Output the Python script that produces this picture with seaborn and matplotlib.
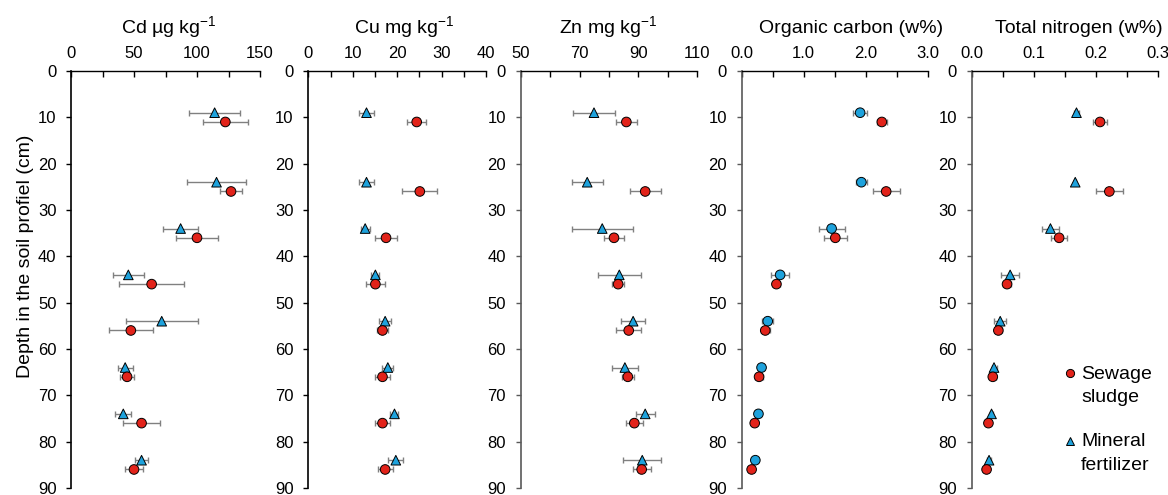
import matplotlib
matplotlib.use('Agg')
import matplotlib.pyplot as plt
import matplotlib.ticker as ticker
import seaborn as sns
import pandas as pd

sns.set_style('ticks')
plt.rcParams['font.family'] = ['Liberation Sans', 'DejaVu Sans']
plt.rcParams['mathtext.fontset'] = 'custom'
plt.rcParams['mathtext.rm'] = 'Liberation Sans'
plt.rcParams['mathtext.default'] = 'rm'
for key in ['text.color', 'axes.labelcolor', 'xtick.color', 'ytick.color']:
    plt.rcParams[key] = 'black'

SEWAGE = 'Sewage sludge'
MINERAL = 'Mineral fertilizer'

depth_sewage = [11, 26, 36, 46, 56, 66, 76, 86]
depth_mineral = [9, 24, 34, 44, 54, 64, 74, 84]

cd_sewage = [122.5, 127, 100, 64, 47.5, 44.5, 56, 50]
cd_sewage_err = [18, 9, 16.5, 26, 17.5, 5.5, 14.5, 7]
cd_mineral = [114, 115.5, 87, 45.5, 72, 43, 41.5, 56]
cd_mineral_err = [20, 23.5, 14, 12.5, 28.5, 6, 6.5, 5.5]

cu_sewage = [24.4, 25.1, 17.5, 15.1, 16.7, 16.7, 16.7, 17.3]
cu_sewage_err = [2.1, 3.9, 2.5, 2.1, 1.2, 1.6, 1.6, 1.7]
cu_mineral = [13.1, 13.1, 12.8, 15.1, 17.3, 17.9, 19.4, 19.7]
cu_mineral_err = [1.6, 1.8, 1.0, 0.9, 1.3, 1.2, 0.9, 1.7]

zn_sewage = [85.9, 92.3, 81.7, 83.1, 86.7, 86.4, 88.6, 91.1]
zn_sewage_err = [3.6, 5.2, 3.4, 2.1, 4.3, 2.1, 2.8, 3.0]
zn_mineral = [74.9, 72.6, 77.7, 83.5, 88.2, 85.4, 92.3, 91.3]
zn_mineral_err = [7.0, 5.3, 10.3, 7.3, 4.1, 4.5, 3.2, 6.5]

oc_sewage = [2.26, 2.33, 1.51, 0.56, 0.38, 0.28, 0.21, 0.16]
oc_sewage_err = [0.08, 0.22, 0.19, 0.06, 0.07, 0.07, 0.03, 0.03]
oc_mineral = [1.91, 1.93, 1.45, 0.62, 0.42, 0.32, 0.27, 0.22]
oc_mineral_err = [0.11, 0.09, 0.21, 0.14, 0.09, 0.04, 0.03, 0.03]

tn_sewage = [0.207, 0.222, 0.141, 0.057, 0.043, 0.034, 0.027, 0.024]
tn_sewage_err = [0.011, 0.022, 0.013, 0.006, 0.006, 0.005, 0.004, 0.003]
tn_mineral = [0.169, 0.167, 0.127, 0.062, 0.046, 0.036, 0.032, 0.028]
tn_mineral_err = [0.004, 0.002, 0.014, 0.014, 0.010, 0.004, 0.003, 0.003]

cd_ticks = [0, 50, 100, 150]
cu_ticks = [0, 10, 20, 30, 40]
zn_ticks = [50, 70, 90, 110]
oc_ticks = [0.0, 1.0, 2.0, 3.0]
tn_ticks = [0.0, 0.1, 0.2, 0.3]

palette = {SEWAGE: '#e2231a', MINERAL: '#1ea2dc'}

# (title, sewage, err, mineral, err, ticks, minor step, fmt, mineral marker,
#  left spine colour, left px, width px, title centre as axes fraction)
panels = [
    ('Cd µg kg$^{-1}$', cd_sewage, cd_sewage_err, cd_mineral, cd_mineral_err,
     cd_ticks, 25, '%d', '^', 'black', 71, 189, 0.519),
    ('Cu mg kg$^{-1}$', cu_sewage, cu_sewage_err, cu_mineral, cu_mineral_err,
     cu_ticks, 5, '%d', '^', 'black', 308.3, 177.7, 0.541),
    ('Zn mg kg$^{-1}$', zn_sewage, zn_sewage_err, zn_mineral, zn_mineral_err,
     zn_ticks, 10, '%d', '^', '#595959', 520.7, 176.6, 0.498),
    ('Organic carbon (w%)', oc_sewage, oc_sewage_err, oc_mineral, oc_mineral_err,
     oc_ticks, 0.5, '%.1f', 'o', '#595959', 741.7, 186, 0.586),
    ('Total nitrogen (w%)', tn_sewage, tn_sewage_err, tn_mineral, tn_mineral_err,
     tn_ticks, 0.05, '%.1f', '^', '#595959', 971.7, 186, 0.575),
]

W, H = 1168, 495
fig = plt.figure(figsize=(W / 100, H / 100), dpi=100)
FS = 12
TFS = 14

for i, (title, sew, sew_err, mnr, mnr_err, xticks, minor, fmt, mmark, lcol,
        left, width, tx) in enumerate(panels):
    ax = fig.add_axes([left / W, 1 - 488 / H, width / W, 417 / H])
    df = pd.DataFrame({
        'value': mnr + sew,
        'depth': depth_mineral + depth_sewage,
        'treatment': [MINERAL] * len(mnr) + [SEWAGE] * len(sew),
    })
    ax.errorbar(mnr, depth_mineral, xerr=mnr_err, fmt='none', ecolor='#808080',
                elinewidth=1, capsize=2.3, capthick=1, zorder=1)
    ax.errorbar(sew, depth_sewage, xerr=sew_err, fmt='none', ecolor='#808080',
                elinewidth=1, capsize=2.3, capthick=1, zorder=1)
    sns.scatterplot(data=df, x='value', y='depth', hue='treatment', style='treatment',
                    palette=palette, markers={SEWAGE: 'o', MINERAL: mmark},
                    s=48, edgecolor='black', linewidth=0.7, zorder=3,
                    legend=(i == 4), ax=ax)

    ax.set_xlim(xticks[0], xticks[-1])
    ax.set_ylim(90, 0)
    ax.xaxis.tick_top()
    ax.xaxis.set_major_locator(ticker.FixedLocator(xticks))
    ax.xaxis.set_minor_locator(ticker.MultipleLocator(minor))
    ax.xaxis.set_major_formatter(ticker.FormatStrFormatter(fmt))
    ax.yaxis.set_major_locator(ticker.MultipleLocator(10))
    ax.tick_params(axis='x', which='both', direction='in', length=4.5, width=1,
                   color='black', labelcolor='black', labelsize=FS, pad=7.5,
                   top=True, bottom=False)
    ax.tick_params(axis='y', direction='out', length=3.5, width=1, color=lcol,
                   labelcolor='black', labelsize=FS, pad=7)
    for side in ['right', 'bottom']:
        ax.spines[side].set_visible(False)
    ax.spines['top'].set_color('black')
    ax.spines['top'].set_linewidth(1)
    ax.spines['left'].set_color(lcol)
    ax.spines['left'].set_linewidth(1.2)

    ax.xaxis.set_label_position('top')
    ax.set_xlabel(title, fontsize=TFS)
    ax.xaxis.label.set_verticalalignment('baseline')
    ax.xaxis.set_label_coords(tx, (488 - 33.5) / 417)
    if i == 0:
        ax.set_ylabel('Depth in the soil profiel (cm)', fontsize=14)
        ax.yaxis.set_label_coords((34 - 71) / 189, (488 - 256.7) / 417)
    else:
        ax.set_ylabel('')

    if i == 4:
        handles, labels = ax.get_legend_handles_labels()
        names = {SEWAGE: 'Sewage\nsludge', MINERAL: 'Mineral\nfertilizer'}
        order = [labels.index(SEWAGE), labels.index(MINERAL)]
        leg = ax.legend([handles[k] for k in order], [names[labels[k]] for k in order],
                        loc='lower right', bbox_to_anchor=(1152 / W, 1 - 474 / H),
                        bbox_transform=fig.transFigure, frameon=False,
                        fontsize=14, markerscale=0.85, handletextpad=0.0,
                        labelspacing=1.4, handlelength=1.1, handleheight=1.0,
                        borderpad=0, borderaxespad=0)
        for txt in leg.get_texts():
            txt.set_linespacing(1.5)
        # put each marker beside the first line of its label
        for col in leg._legend_handle_box.get_children():
            for item in col.get_children():
                item.align = 'top'

fig.savefig('out.png', dpi=100)
